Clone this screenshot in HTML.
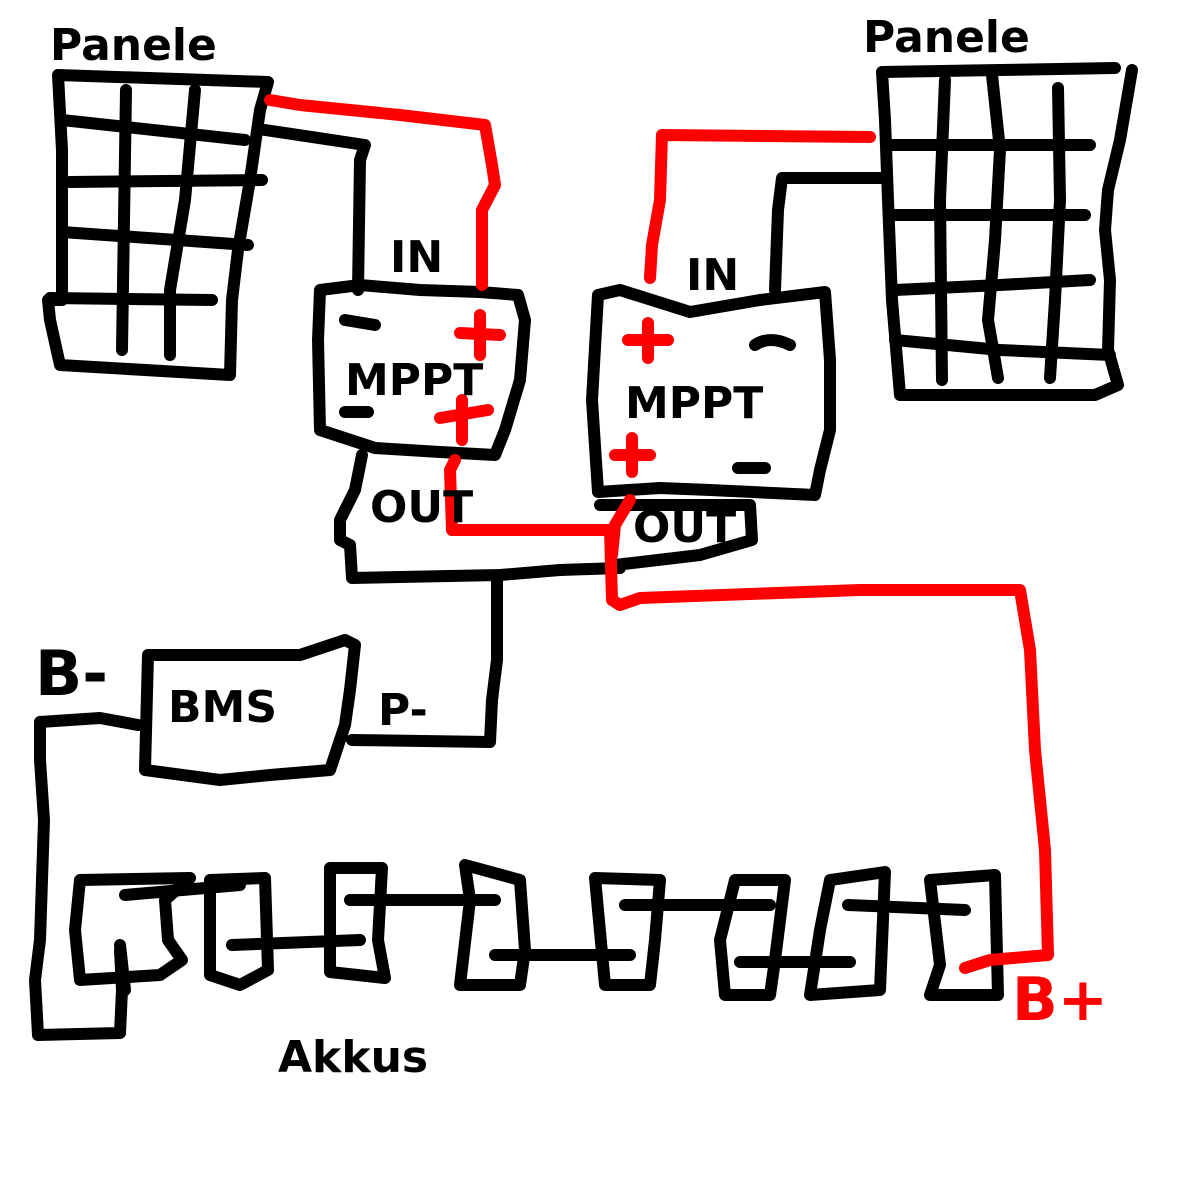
<!DOCTYPE html>
<html><head><meta charset="utf-8"><style>
html,body{margin:0;padding:0;background:#fff;width:1200px;height:1200px;overflow:hidden}
svg{display:block}
text{font-family:"DejaVu Sans","Liberation Sans",sans-serif;font-weight:bold}
</style></head><body>
<svg width="1200" height="1200" viewBox="0 0 1200 1200" xmlns="http://www.w3.org/2000/svg">
<rect width="1200" height="1200" fill="#fff"/>
<g fill="none" stroke="#000" stroke-width="12" stroke-linecap="round" stroke-linejoin="round">
<!-- left panel -->
<path d="M58,75 L268,82 L260,110 L250,180 L238,250 L232,300 L230,375 L60,365 L50,320 L48,300 L62,300 L62,230 L62,150 Z"/>
<path d="M126,90 L122,350 M195,90 L185,200 L170,290 L170,355"/>
<path d="M62,120 L245,140 M70,182 L262,180 M62,232 L248,245 M50,298 L212,300"/>
<path d="M265,130 L365,145 L360,160 L358,290"/>
<!-- MPPT1 -->
<path d="M320,290 L360,285 L420,290 L480,292 L518,295 L525,320 L520,380 L505,430 L495,455 L440,452 L375,448 L320,430 L318,340 Z"/>
<path d="M345,320 L375,325 M345,412 L368,412"/>
<path d="M362,455 L355,490 L340,520 L340,540 L350,545 L352,578 L500,575 L560,570 L620,568 L615,565 L700,555 L752,540 L750,505 L600,505"/>
<path d="M497,578 L497,660 L492,700 L490,742 L352,740"/>
<!-- BMS -->
<path d="M148,655 L300,655 L345,640 L355,645 L350,690 L345,725 L330,770 L270,775 L220,780 L145,770 Z"/>
<path d="M138,725 L100,718 L40,722 L40,760 L44,820 L40,940 L35,980 L38,1035 L120,1033 L122,990 L120,950"/>
<!-- MPPT2 -->
<path d="M598,295 L620,290 L690,312 L760,300 L825,292 L830,360 L830,430 L820,470 L815,495 L710,490 L660,488 L598,492 L592,400 Z"/>
<path d="M755,345 Q770,335 790,345 M738,468 L765,468"/>
<path d="M775,290 L778,210 L782,178 L880,178"/>
<!-- right panel -->
<path d="M882,72 L1000,70 L1115,68 M1132,70 L1120,140 L1108,190 L1105,230 L1110,280 L1108,350 L1118,385 L1095,395 L900,395 L892,300 L888,200 L885,120 L882,72"/>
<path d="M945,80 L940,200 L942,380 M992,75 L1000,150 L995,240 L988,320 L998,378 M1058,88 L1060,200 L1055,300 L1050,378"/>
<path d="M890,145 L1090,145 M890,215 L1085,215 M895,290 L1000,285 L1090,280 M895,340 L1000,350 L1110,355"/>
<!-- battery cells -->
<path d="M80,880 L190,878 L165,900 L168,940 L182,960 L160,975 L80,980 L75,930 Z"/>
<path d="M210,880 L265,878 L268,970 L240,985 L210,975 Z"/>
<path d="M330,868 L382,868 L378,940 L385,978 L330,972 Z"/>
<path d="M465,865 L520,880 L525,950 L520,985 L460,985 L470,900 Z"/>
<path d="M595,878 L660,880 L655,940 L650,985 L605,985 Z"/>
<path d="M735,880 L785,880 L775,960 L770,995 L725,995 L720,940 Z"/>
<path d="M830,880 L885,872 L880,990 L810,995 L820,930 Z"/>
<path d="M930,880 L995,875 L998,995 L930,995 L940,965 Z"/>
<path d="M125,895 L240,885 M232,945 L360,940 M350,900 L495,900 M495,955 L630,955 M625,905 L770,905 M740,962 L850,962 M848,905 L965,910 M120,945 L125,990"/>
</g>
<g fill="none" stroke="#f00" stroke-width="12" stroke-linecap="round" stroke-linejoin="round">
<path d="M270,100 L300,105 L400,115 L485,125 L492,165 L495,185 L482,210 L482,285"/>
<path d="M460,333 L500,335 M480,315 L480,355 M440,418 L488,410 M462,400 L462,440"/>
<path d="M455,460 L450,470 L452,530 L610,530 L612,600 L620,605 L640,598 L860,590 L1020,590 L1030,650 L1035,750 L1045,850 L1048,955 L990,960 L965,968"/>
<path d="M630,500 L615,525 L612,555"/>
<path d="M650,278 L652,245 L660,200 L662,135 L870,137"/>
<path d="M628,340 L668,340 M648,323 L648,358 M615,455 L650,455 M632,438 L632,472"/>
</g>
<g fill="#000" font-size="44">
<text x="50" y="60">Panele</text>
<text x="863" y="52">Panele</text>
<text x="390" y="272">IN</text>
<text x="686" y="290">IN</text>
<text x="345" y="395">MPPT</text>
<text x="625" y="418">MPPT</text>
<text x="370" y="522">OUT</text>
<text x="633" y="542">OUT</text>
<text x="168" y="722">BMS</text>
<text x="378" y="725">P-</text>
<text x="278" y="1072">Akkus</text>
<text x="35" y="695" font-size="62">B-</text>
</g>
<text x="1012" y="1020" font-size="60" fill="#f00">B+</text>
</svg>
</body></html>
